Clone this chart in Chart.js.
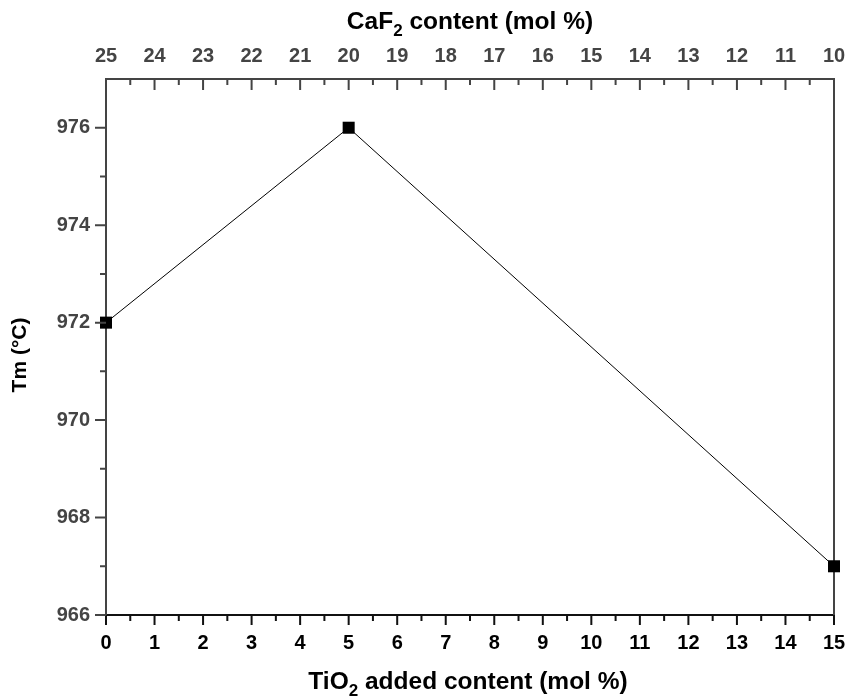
<!DOCTYPE html>
<html>
<head>
<meta charset="utf-8">
<script src="https://cdn.jsdelivr.net/npm/chart.js@4"></script>
<style>
  html, body { margin: 0; padding: 0; background: #fff; }
</style>
</head>
<body>
<canvas id="tmChart" width="849" height="699"></canvas>
<script>
// measured melting temperature vs TiO2 added
const tio2Added = [0, 5, 15];
const meltTemp = [972, 976, 967];

const bottomTicks = [0, 1, 2, 3, 4, 5, 6, 7, 8, 9, 10, 11, 12, 13, 14, 15];
const topTicks = [25, 24, 23, 22, 21, 20, 19, 18, 17, 16, 15, 14, 13, 12, 11, 10];
const leftTicks = [966, 968, 970, 972, 974, 976];
const leftMinor = [967, 969, 971, 973, 975];

const FONT = '"Liberation Sans", Arial, Helvetica, sans-serif';

function drawRich(ctx, parts, size)
{
    // parts: [text, isSub] pairs, drawn centered at 0,0 baseline
    let total = 0;
    parts.forEach(function(p) {
        ctx.font = 'bold ' + (p[1] ? Math.round(size * 0.68) : size) + 'px ' + FONT;
        total += ctx.measureText(p[0]).width;
    });
    let x = -total / 2;
    parts.forEach(function(p) {
        ctx.font = 'bold ' + (p[1] ? Math.round(size * 0.68) : size) + 'px ' + FONT;
        ctx.fillText(p[0], x, p[1] ? size * 0.3 : 0);
        x += ctx.measureText(p[0]).width;
    });
}

// keep the plot box fixed, labels may overhang
function fixHeight(h)
{
    return function(s) {
        s.height = h;
        s.paddingLeft = 0;
        s.paddingRight = 0;
    };
}

const frame = {
    id: 'frame',
    beforeDatasetsDraw(chart) {
        const ctx = chart.ctx;
        const a = chart.chartArea;
        ctx.save();
        ctx.strokeStyle = '#444';
        ctx.lineWidth = 2;
        ctx.beginPath();
        ctx.moveTo(a.right, a.top);
        ctx.lineTo(a.right, a.bottom);
        ctx.stroke();
        ctx.restore();
    },
    afterDraw(chart) {
        const ctx = chart.ctx;
        const a = chart.chartArea;
        const x = chart.scales.x, x2 = chart.scales.x2, y = chart.scales.y;
        ctx.save();
        ctx.lineWidth = 2;

        // bottom ticks, outward
        ctx.strokeStyle = '#111';
        ctx.beginPath();
        bottomTicks.forEach(function(v) {
            const px = x.getPixelForValue(v);
            ctx.moveTo(px, a.bottom); ctx.lineTo(px, a.bottom + 10);
            if (v < 15) {
                const pm = x.getPixelForValue(v + 0.5);
                ctx.moveTo(pm, a.bottom); ctx.lineTo(pm, a.bottom + 6);
            }
        });
        ctx.stroke();

        // top ticks, inward
        ctx.strokeStyle = '#444';
        ctx.beginPath();
        topTicks.forEach(function(v) {
            const px = x2.getPixelForValue(v);
            ctx.moveTo(px, a.top); ctx.lineTo(px, a.top + 11);
            if (v > 10) {
                const pm = x2.getPixelForValue(v - 0.5);
                ctx.moveTo(pm, a.top); ctx.lineTo(pm, a.top + 6);
            }
        });
        ctx.stroke();

        // left ticks, outward
        ctx.beginPath();
        leftTicks.forEach(function(v) {
            const py = y.getPixelForValue(v);
            ctx.moveTo(a.left, py); ctx.lineTo(a.left - 11, py);
        });
        leftMinor.forEach(function(v) {
            const py = y.getPixelForValue(v);
            ctx.moveTo(a.left, py); ctx.lineTo(a.left - 6, py);
        });
        ctx.stroke();

        // axis titles
        ctx.fillStyle = '#000';
        ctx.textBaseline = 'alphabetic';
        ctx.textAlign = 'left';
        const cx = (a.left + a.right) / 2;

        ctx.save();
        ctx.translate(cx - 2, 689);
        drawRich(ctx, [['TiO', false], ['2', true], [' added content (mol %)', false]], 24.5);
        ctx.restore();

        ctx.save();
        ctx.translate(cx, 29);
        drawRich(ctx, [['CaF', false], ['2', true], [' content (mol %)', false]], 24.5);
        ctx.restore();

        ctx.save();
        ctx.translate(26, 355);
        ctx.rotate(-Math.PI / 2);
        drawRich(ctx, [['Tm (°C)', false]], 21);
        ctx.restore();

        ctx.restore();
    }
};

const tickFont = { family: FONT, size: 20, weight: 'bold' };

new Chart(document.getElementById('tmChart'), {
    type: 'line',
    data: {
        datasets: [{
            label: 'Tm',
            data: tio2Added.map(function(v, i) { return { x: v, y: meltTemp[i] }; }),
            borderColor: '#000',
            borderWidth: 1,
            backgroundColor: '#000',
            pointStyle: 'rect',
            pointRadius: 8.5,
            pointHoverRadius: 8.5,
            pointBorderWidth: 0,
            tension: 0,
            clip: false
        }]
    },
    options: {
        responsive: false,
        animation: false,
        events: [],
        layout: { padding: { left: 0, right: 15, top: 0, bottom: 0 } },
        plugins: {
            legend: { display: false },
            tooltip: { enabled: false }
        },
        scales: {
            x: {
                type: 'linear',
                position: 'bottom',
                min: 0,
                max: 15,
                afterBuildTicks: function(s) { s.ticks = bottomTicks.map(function(v) { return { value: v }; }); },
                afterFit: fixHeight(84),
                grid: { display: false, drawTicks: false },
                border: { display: true, color: '#111', width: 2 },
                ticks: { font: tickFont, color: '#000', padding: 16, maxRotation: 0, autoSkip: false }
            },
            x2: {
                type: 'linear',
                position: 'top',
                min: 10,
                max: 25,
                reverse: true,
                afterBuildTicks: function(s) { s.ticks = topTicks.map(function(v) { return { value: v }; }); },
                afterFit: fixHeight(79),
                grid: { display: false, drawTicks: false },
                border: { display: true, color: '#444', width: 2 },
                ticks: { font: tickFont, color: '#444', padding: 11, maxRotation: 0, autoSkip: false }
            },
            y: {
                type: 'linear',
                position: 'left',
                min: 966,
                max: 977,
                afterBuildTicks: function(s) { s.ticks = leftTicks.map(function(v) { return { value: v }; }); },
                afterFit: function(s) { s.width = 106; },
                grid: { display: false, drawTicks: false },
                border: { display: true, color: '#444', width: 2 },
                ticks: { font: tickFont, color: '#444', padding: 16 }
            }
        }
    },
    plugins: [frame]
});
</script>
</body>
</html>
